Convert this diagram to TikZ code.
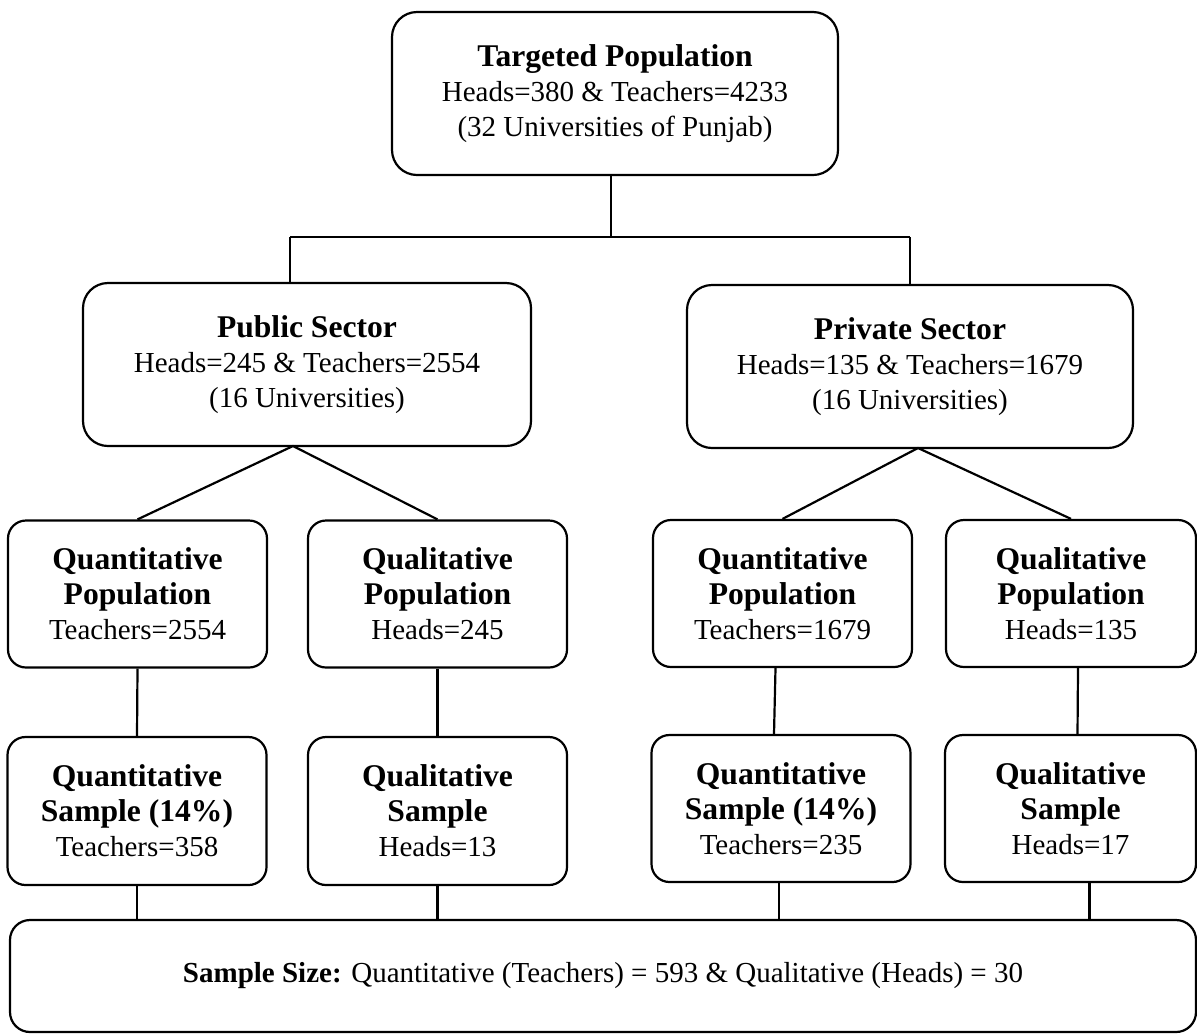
\documentclass[tikz,border=0pt]{standalone}
\usepackage{fontspec}
\setmainfont{Liberation Serif}
\newcommand{\txtfont}{\fontsize{14.5}{17.5}\selectfont\mdseries}
\newcommand{\headfont}{\fontsize{15.8}{17.5}\selectfont\bfseries}
\begin{document}
\begin{tikzpicture}[x=0.5pt,y=-0.5pt,line width=1.1pt,
  box/.style={draw, align=center, inner sep=0pt, font=\txtfont},
  bigbox/.style={box, rounded corners=12.5pt, minimum width=223pt, minimum height=81.5pt},
  smallbox/.style={box, rounded corners=9pt, minimum width=129.5pt, minimum height=73.5pt}]
\useasboundingbox (0,0) rectangle (1197,1035);

% top level
\node[bigbox] (top) at (615,93.5)
  {\headfont Targeted Population\\\txtfont Heads=380 \& Teachers=4233\\(32 Universities of Punjab)};

% sectors
\node[bigbox, minimum width=224pt] (pub) at (307,364.5)
  {\headfont Public Sector\\\txtfont Heads=245 \& Teachers=2554\\(16 Universities)};
\node[bigbox] (priv) at (910,366.5)
  {\headfont Private Sector\\\txtfont Heads=135 \& Teachers=1679\\(16 Universities)};

% populations
\node[smallbox] (qp1) at (137.5,594)
  {\headfont Quantitative\\\headfont Population\\\txtfont Teachers=2554};
\node[smallbox] (qlp1) at (437.5,594)
  {\headfont Qualitative\\\headfont Population\\\txtfont Heads=245};
\node[smallbox] (qp2) at (782.5,593.5)
  {\headfont Quantitative\\\headfont Population\\\txtfont Teachers=1679};
\node[smallbox, minimum width=125pt] (qlp2) at (1071,593.5)
  {\headfont Qualitative\\\headfont Population\\\txtfont Heads=135};

% samples
\node[smallbox, minimum height=74pt] (qs1) at (137,811)
  {\headfont Quantitative\\\headfont Sample (14\%)\\\txtfont Teachers=358};
\node[smallbox, minimum height=74pt] (qls1) at (437.5,811)
  {\headfont Qualitative\\\headfont Sample\\\txtfont Heads=13};
\node[smallbox] (qs2) at (781,808.5)
  {\headfont Quantitative\\\headfont Sample (14\%)\\\txtfont Teachers=235};
\node[smallbox, minimum width=125.5pt] (qls2) at (1070.5,808.5)
  {\headfont Qualitative\\\headfont Sample\\\txtfont Heads=17};

% total
\node[box, rounded corners=10pt, minimum width=593pt, minimum height=56pt] (bot) at (603,976)
  {\textbf{Sample Size:} Quantitative (Teachers) = 593 \& Qualitative (Heads) = 30};

% top split
\coordinate (jn) at (611,237);
\coordinate (jl) at (290,237);
\coordinate (jr) at (910,237);
\draw (top.south -| jn) -- (jn);
\draw (jl) -- (jr);
\draw (jl) -- (jl |- pub.north);
\draw (jr) -- (jr |- priv.north);

% sector branches
\coordinate (pa) at (293,446);
\coordinate (va) at (918,448);
\draw (qp1.north) -- (pa) -- (qlp1.north);
\draw (qp2.north) -- (va) -- (qlp2.north);

% population to sample
\draw (qp1.south) -- (qs1.north);
\draw (qlp1.south) -- (qls1.north);
\draw ([xshift=-3.5pt]qp2.south) -- ([xshift=-3.5pt]qs2.north);
\draw ([xshift=3.5pt]qlp2.south) -- ([xshift=3.5pt]qls2.north);

% samples to total
\coordinate (s1) at (qs1.south);
\coordinate (s2) at (qls1.south);
\coordinate (s3) at ([xshift=-1pt]qs2.south);
\coordinate (s4) at ([xshift=9.5pt]qls2.south);
\draw (s1) -- (s1 |- bot.north);
\draw (s2) -- (s2 |- bot.north);
\draw (s3) -- (s3 |- bot.north);
\draw (s4) -- (s4 |- bot.north);
\end{tikzpicture}
\end{document}
